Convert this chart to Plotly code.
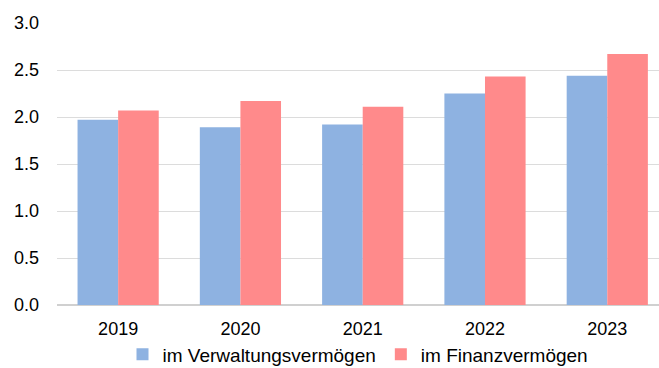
import plotly.graph_objects as go

years = ["2019", "2020", "2021", "2022", "2023"]
verwaltung = [1.97, 1.89, 1.92, 2.25, 2.44]
finanz = [2.07, 2.17, 2.11, 2.43, 2.67]
series_names = ["im Verwaltungsvermögen", "im Finanzvermögen"]
y_ticks = [0.0, 0.5, 1.0, 1.5, 2.0, 2.5, 3.0]

font_family = "Liberation Sans, Arial, sans-serif"

fig = go.Figure()
fig.add_trace(go.Bar(x=years, y=verwaltung, name=series_names[0],
                     marker=dict(color="#8EB2E1", line=dict(width=0))))
fig.add_trace(go.Bar(x=years, y=finanz, name=series_names[1],
                     marker=dict(color="#FF8A8B", line=dict(width=0))))

fig.update_layout(
    width=659, height=368,
    margin=dict(l=57, r=0, t=23, b=63, autoexpand=False),
    paper_bgcolor="white", plot_bgcolor="white",
    barmode="group", bargap=0.336, bargroupgap=0,
    font=dict(family=font_family, size=18, color="#000000"),
    showlegend=True,
    legend=dict(orientation="h", x=0.5, xanchor="center",
                yref="container", y=0.037, yanchor="middle",
                font=dict(size=19), itemwidth=30,
                tracegroupgap=0, borderwidth=0,
                bgcolor="rgba(0,0,0,0)"),
)
fig.update_xaxes(
    type="category", range=[-0.5, 4.423], automargin=False,
    showgrid=False, showline=True, linecolor="#D0D0D0", linewidth=1,
    ticks="", ticklabelstandoff=7,
    tickfont=dict(size=18),
)
fig.update_yaxes(
    range=[0, 3.0], tickvals=y_ticks, tickformat=".1f", automargin=False,
    showgrid=True, gridcolor="#DCDCDC", gridwidth=1,
    zeroline=True, zerolinecolor="#D0D0D0",
    showline=False, ticks="", ticklabelstandoff=17,
    tickfont=dict(size=18),
)

fig.write_html("out.html")
